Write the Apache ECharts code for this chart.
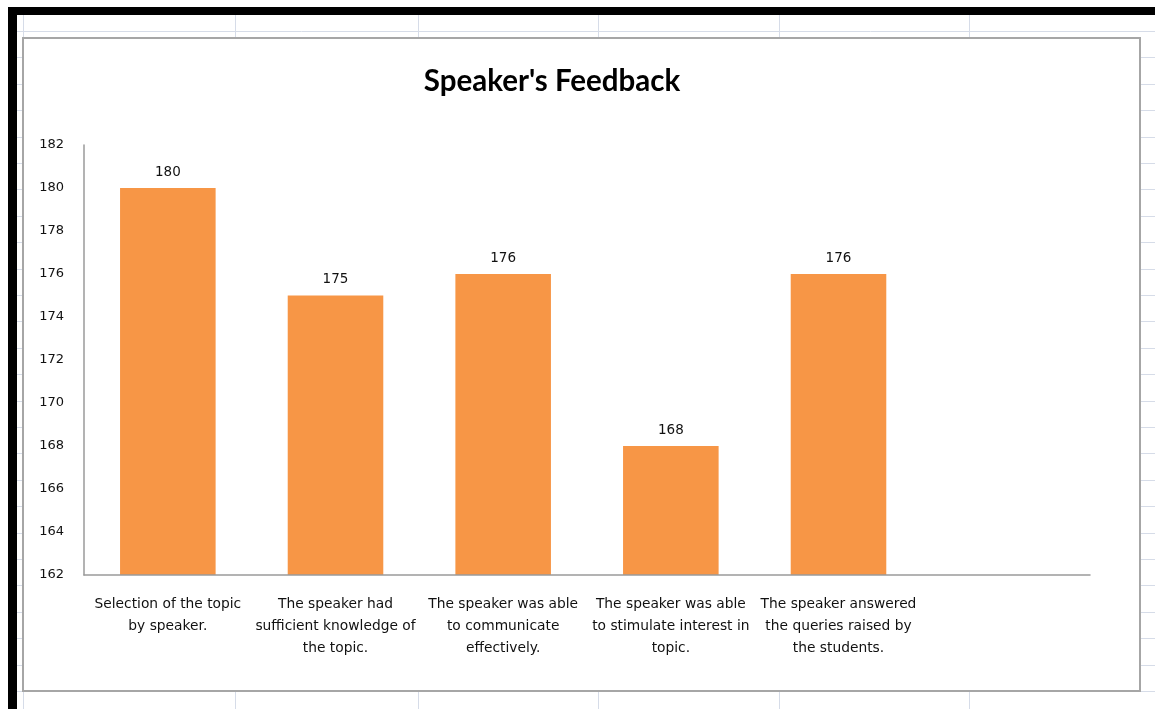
<!DOCTYPE html>
<html>
<head>
<meta charset="utf-8">
<script src="https://cdn.jsdelivr.net/npm/echarts@6/dist/echarts.min.js"></script>
<style>
html,body{margin:0;padding:0;background:#fff;}
#chart{width:1155px;height:709px;}
</style>
</head>
<body>
<div id="chart"></div>
<script>
const titleText = "Speaker's Feedback";
const categories = [
  "Selection of the topic\nby speaker.",
  "The speaker had\nsufficient knowledge of\nthe topic.",
  "The speaker was able\nto communicate\neffectively.",
  "The speaker was able\nto stimulate interest in\ntopic.",
  "The speaker answered\nthe queries raised by\nthe students.",
  ""
];
const values = [180, 175, 176, 168, 176, null];
const yMin = 162, yMax = 182, yStep = 2;

const TFONT = "Lato";
const FONT = "DejaVu Sans";
const chart = echarts.init(document.getElementById('chart'));

// spreadsheet background decoration
const gridColor = '#d6dce8';
const bg = [];
bg.push({type:'rect', shape:{x:0,y:0,width:1155,height:709}, style:{fill:'#ffffff'}, z:-10});
for (let i = 0; i < 27; i++) {
  const y = Math.round(31 + i * 26.4) + 0.5;
  bg.push({type:'line', shape:{x1:17,y1:y,x2:1155,y2:y}, style:{stroke:gridColor,lineWidth:1}, z:-9});
}
[23, 235, 418, 598, 779, 969].forEach(x => {
  bg.push({type:'line', shape:{x1:x+0.5,y1:15,x2:x+0.5,y2:709}, style:{stroke:gridColor,lineWidth:1}, z:-9});
});
bg.push({type:'rect', shape:{x:23,y:38,width:1117,height:653}, style:{fill:'#ffffff',stroke:'#a6a6a6',lineWidth:2}, z:-8});
bg.push({type:'rect', shape:{x:8,y:7,width:1147,height:8}, style:{fill:'#000000'}, z:-7});
bg.push({type:'rect', shape:{x:8,y:7,width:9,height:702}, style:{fill:'#000000'}, z:-7});

chart.setOption({
  animation:false,
  graphic: bg,
  title:{
    text:titleText, left:547, top:61, textAlign:'center', z:20,
    textStyle:{fontFamily:TFONT, fontWeight:'bold', fontSize:29.5, color:'#000'}
  },
  grid:{left:84, right:65, top:145, bottom:134, containLabel:false},
  xAxis:{
    type:'category', data:categories, z:20,
    axisLine:{lineStyle:{color:'#9a9a9a', width:1.5}},
    axisTick:{show:false},
    axisLabel:{interval:0, fontFamily:FONT, fontSize:13.8, color:'#111', lineHeight:22, margin:18, align:'center'}
  },
  yAxis:{
    type:'value', min:yMin, max:yMax, interval:yStep, z:20,
    axisLine:{show:true, lineStyle:{color:'#9a9a9a', width:1.5}},
    axisTick:{show:false},
    splitLine:{show:false},
    axisLabel:{fontFamily:FONT, fontSize:13, color:'#111', margin:20}
  },
  series:[{
    type:'bar', data:values, barWidth:'57%',
    itemStyle:{color:'#F79646'},
    label:{show:true, position:'top', distance:9, fontFamily:FONT, fontSize:13.5, color:'#111'},
    z:5
  }]
});
</script>
</body>
</html>
